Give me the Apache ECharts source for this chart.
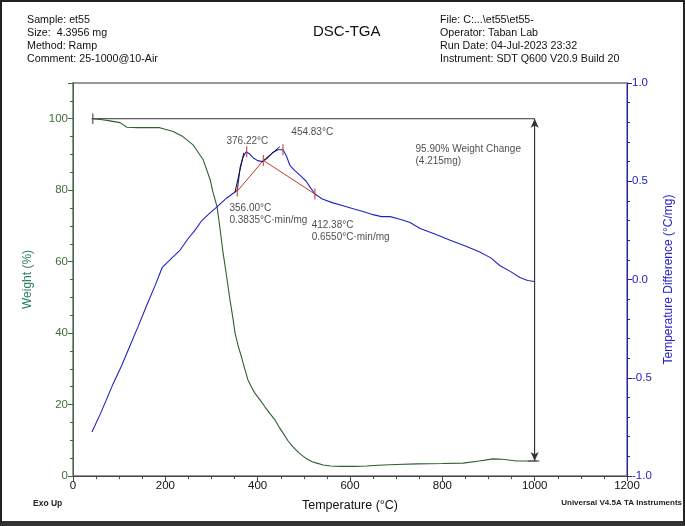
<!DOCTYPE html>
<html>
<head>
<meta charset="utf-8">
<script src="https://cdn.jsdelivr.net/npm/echarts@6/dist/echarts.min.js"></script>
<style>
html,body{margin:0;padding:0;background:#fff;}
#wrap{position:relative;width:685px;height:526px;}
#chart{position:absolute;left:0;top:0;width:685px;height:526px;}
#frame{position:absolute;left:0;top:0;width:685px;height:526px;box-sizing:border-box;border:2px solid #222;border-bottom:5px solid #333;pointer-events:none;}
</style>
</head>
<body>
<div id="wrap"><div id="chart"></div><div id="frame"></div></div>
<script>
// ---- data ----
const tgaTemp = [40,60,80,102,117,140,160,188,217,238,260,282,297,303,312,318,325,333,340,347,351,358,365,372,379,387,394,405,416,427,437,447,455,466,477,490,506,518,528,542,557,580,610,636,660,700,745,800,845,880,910,930,961,985,1005];
const tgaWeight = [100,99.8,99.4,98.9,97.6,97.5,97.5,97.5,96.4,95.0,92.7,88.5,83.0,79.5,75.4,69.7,62.5,55.7,49.3,43.7,40.0,36.3,33.3,30.0,26.9,24.8,23.2,21.3,19.3,17.4,15.8,13.6,12.0,9.8,8.1,6.4,4.8,4.0,3.6,3.1,2.8,2.7,2.7,2.8,3.0,3.2,3.4,3.5,3.6,4.2,4.8,4.7,4.2,4.2,4.2];

const dscTemp = [41,60,87,105,123,140,160,178,193,210,232,250,264,279,295,312,333,351,356,362,368,375,382,390,400,410,420,432,444,455,462,470,480,492,505,515,524,540,563,585,607,630,650,668,687,710,730,752,785,817,850,881,905,925,948,968,985,1000];
const dscDiff = [-0.776,-0.68,-0.53,-0.44,-0.34,-0.245,-0.13,-0.03,0.06,0.10,0.15,0.21,0.25,0.30,0.335,0.37,0.415,0.445,0.455,0.57,0.62,0.65,0.64,0.62,0.605,0.60,0.615,0.645,0.66,0.66,0.63,0.58,0.555,0.53,0.50,0.465,0.435,0.41,0.39,0.375,0.36,0.345,0.33,0.32,0.32,0.305,0.29,0.26,0.23,0.20,0.17,0.14,0.11,0.07,0.04,0.01,-0.005,-0.01];

// annotation geometry (data coordinates)
const baselineTemp = [356.0, 412.38, 524];
const baselineDiff = [0.45, 0.606, 0.435];
const peakTickTemp = [356.0, 376.22, 412.38, 454.83, 524];
const peakTickDiff = [0.45, 0.65, 0.606, 0.66, 0.435];
const tangent1 = [[351, 0.445], [370, 0.645]];
const tangent2 = [[409, 0.598], [448, 0.676]];
const weightStep = {start: 43, end: 1000, top: 100, bottom: 4.2};

const dscLabels = [
  {t: 333.5, d: 0.73, text: '376.22°C'},
  {t: 474, d: 0.776, text: '454.83°C'},
  {t: 340, d: 0.389, text: '356.00°C\n0.3835°C·min/mg'},
  {t: 518, d: 0.303, text: '412.38°C\n0.6550°C·min/mg'},
  {t: 743, d: 0.69, text: '95.90% Weight Change\n(4.215mg)'}
];

const headerLeft = ['Sample: et55', 'Size:  4.3956 mg', 'Method: Ramp', 'Comment: 25-1000@10-Air'];
const headerRight = ['File: C:...\\et55\\et55-', 'Operator: Taban Lab', 'Run Date: 04-Jul-2023 23:32', 'Instrument: SDT Q600 V20.9 Build 20'];

// ---- chart ----
const FONT = '"Liberation Sans", Arial, sans-serif';
const GREEN = '#2f5e2f';
const BLUE = '#2222c4';
const RED = '#c0392b';
const chart = echarts.init(document.getElementById('chart'), null, {renderer: 'canvas'});

const graphics = [];
headerLeft.forEach((s, i) => graphics.push({type: 'text', left: 27, top: 15 + i * 13, style: {text: s, font: '10.7px ' + FONT, fill: '#111'}}));
headerRight.forEach((s, i) => graphics.push({type: 'text', left: 440, top: 15 + i * 13, style: {text: s, font: '10.7px ' + FONT, fill: '#111'}}));
graphics.push({type: 'text', left: 313, top: 24, style: {text: 'DSC-TGA', font: '15px ' + FONT, fill: '#111'}});
graphics.push({type: 'text', left: 33, top: 499, style: {text: 'Exo Up', font: 'bold 8.5px ' + FONT, fill: '#222'}});
graphics.push({type: 'text', right: 3, top: 499, style: {text: 'Universal V4.5A TA Instruments', font: 'bold 8px ' + FONT, fill: '#222'}});

const segStyle = {color: '#333', width: 1};
chart.setOption({
  animation: false,
  backgroundColor: '#fff',
  textStyle: {fontFamily: FONT},
  grid: {left: 73, right: 58, top: 83, bottom: 50, show: true, borderColor: '#777', borderWidth: 1.5, containLabel: false},
  graphic: graphics,
  xAxis: {
    type: 'value', min: 0, max: 1200, interval: 200,
    name: 'Temperature (°C)', nameLocation: 'middle', nameGap: 23,
    nameTextStyle: {fontSize: 12.5, color: '#111', fontFamily: FONT},
    axisLine: {lineStyle: {color: '#444', width: 1}},
    axisTick: {length: 5, lineStyle: {color: '#444'}},
    minorTick: {show: true, splitNumber: 4, length: 3, lineStyle: {color: '#444'}},
    axisLabel: {fontSize: 11.5, color: '#111', margin: 4, formatter: v => String(v)},
    splitLine: {show: false}
  },
  yAxis: [{
    type: 'value', min: 0, max: 110, interval: 20, position: 'left',
    name: 'Weight (%)', nameLocation: 'middle', nameGap: 39, nameRotate: 90,
    nameTextStyle: {fontSize: 12, color: '#2a7d62', fontFamily: FONT},
    axisLine: {show: true, lineStyle: {color: '#3c6b3c', width: 1}},
    axisTick: {length: 5, lineStyle: {color: '#3c6b3c'}},
    minorTick: {show: true, splitNumber: 4, length: 3, lineStyle: {color: '#3c6b3c'}},
    axisLabel: {fontSize: 11.5, color: '#3f6f35', margin: 5, formatter: v => v > 100 ? '' : String(v)},
    splitLine: {show: false}
  }, {
    type: 'value', min: -1, max: 1, interval: 0.5, position: 'right',
    name: 'Temperature Difference (°C/mg)', nameLocation: 'middle', nameGap: 34, nameRotate: 90,
    nameTextStyle: {fontSize: 12, color: BLUE, fontFamily: FONT},
    axisLine: {show: true, lineStyle: {color: BLUE, width: 1}},
    axisTick: {length: 5, lineStyle: {color: BLUE}},
    minorTick: {show: true, splitNumber: 5, length: 3, lineStyle: {color: BLUE}},
    axisLabel: {fontSize: 11.5, color: BLUE, margin: 5, formatter: v => v.toFixed(1)},
    splitLine: {show: false}
  }],
  series: [
    {type: 'line', name: 'weight', yAxisIndex: 0, data: tgaTemp.map((t, i) => [t, tgaWeight[i]]), showSymbol: false, symbol: 'none', lineStyle: {color: GREEN, width: 1.1}, z: 3},
    {type: 'line', name: 'dsc', yAxisIndex: 1, data: dscTemp.map((t, i) => [t, dscDiff[i]]), showSymbol: false, symbol: 'none', lineStyle: {color: BLUE, width: 1.1}, z: 3},
    {type: 'line', yAxisIndex: 1, data: baselineTemp.map((t, i) => [t, baselineDiff[i]]), symbol: 'none', lineStyle: {color: RED, width: 1}, z: 4},
    {type: 'line', yAxisIndex: 1, data: tangent1, symbol: 'none', lineStyle: {color: '#111', width: 1}, z: 4},
    {type: 'line', yAxisIndex: 1, data: tangent2, symbol: 'none', lineStyle: {color: '#111', width: 1}, z: 4},
    {type: 'scatter', yAxisIndex: 1, data: peakTickTemp.map((t, i) => [t, peakTickDiff[i]]), symbol: 'rect', symbolSize: [1.3, 11], itemStyle: {color: RED}, z: 5, silent: true},
    {type: 'line', yAxisIndex: 0, data: [[weightStep.start, weightStep.top], [weightStep.end, weightStep.top]], symbol: 'none', lineStyle: segStyle, z: 2},
    {type: 'line', yAxisIndex: 0, data: [[weightStep.start, weightStep.top + 1.5], [weightStep.start, weightStep.top - 1.5]], symbol: 'none', lineStyle: segStyle, z: 2},
    {type: 'line', yAxisIndex: 0, data: [[weightStep.end - 15, weightStep.bottom], [weightStep.end + 10, weightStep.bottom]], symbol: 'none', lineStyle: segStyle, z: 2},
    {type: 'line', yAxisIndex: 0, data: [[weightStep.end, weightStep.top], [weightStep.end, weightStep.bottom]], symbol: 'none', lineStyle: segStyle, z: 2,
      markLine: {silent: true, symbol: ['arrow', 'arrow'], symbolSize: [6, 9], lineStyle: {color: '#333', width: 1, type: 'solid'}, label: {show: false},
        data: [[{coord: [weightStep.end, weightStep.top]}, {coord: [weightStep.end, weightStep.bottom]}]]}},
    {type: 'scatter', yAxisIndex: 1, symbolSize: 1, itemStyle: {color: 'transparent'}, silent: true, z: 6,
      data: dscLabels.map(l => ({value: [l.t, l.d], label: {show: true, formatter: l.text, position: [0, 0], align: 'left', verticalAlign: 'top', fontSize: 10, lineHeight: 12, color: '#222', fontFamily: FONT}}))}
  ]
});
</script>
</body>
</html>
